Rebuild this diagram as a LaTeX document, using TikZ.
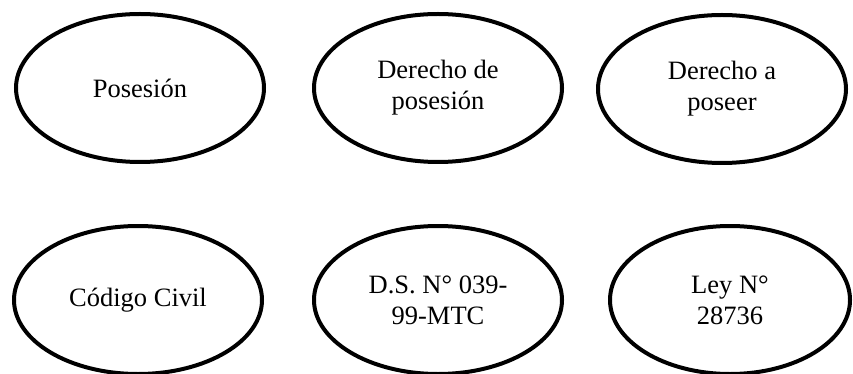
\documentclass[tikz,border=0pt]{standalone}
\usepackage{fontspec}
\setmainfont{Liberation Serif}
\usetikzlibrary{shapes.geometric}
\begin{document}
\begin{tikzpicture}[x=1pt,y=-1pt,
  oval/.style={draw=black, line width=4pt, ellipse, inner sep=0pt,
    minimum width=248pt, minimum height=148pt, align=center,
    font=\fontsize{26.5}{31}\selectfont}]
\useasboundingbox (0,0) rectangle (853,374);
\node[oval] (pos) at (140,88) {Posesión};
\node[oval] (dpos) at (438,88) {Derecho de\\posesión};
\node[oval] (dpo) at (722,89) {Derecho a\\poseer};
\node[oval] (cc) at (138,300) {Código Civil};
\node[oval] (ds) at (438,300) {D.S. N° 039-\\99-MTC};
\node[oval, minimum width=240pt] (ley) at (730,300) {Ley N°\\28736};
\end{tikzpicture}
\end{document}
